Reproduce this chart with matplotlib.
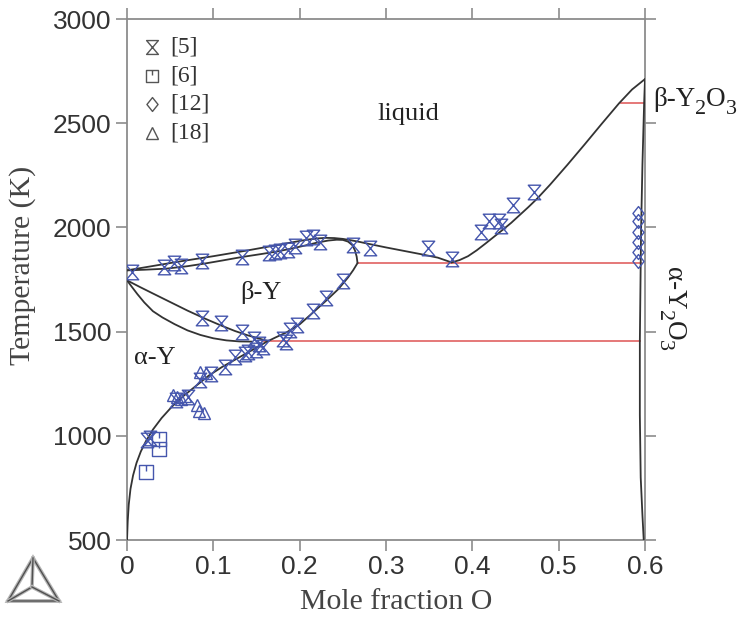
import numpy as np
import matplotlib
matplotlib.use('Agg')
import matplotlib.pyplot as plt
from matplotlib.path import Path
from matplotlib.lines import Line2D
from matplotlib.patches import Polygon
from matplotlib.transforms import offset_copy

plt.rcParams['font.family'] = ['Liberation Serif', 'DejaVu Serif']

# ---------------- data ----------------
# liquidus, Y-rich branch (up to the eutectic)
liq_left_x = [0, 0.02, 0.04, 0.06, 0.08, 0.10, 0.12, 0.14, 0.16, 0.18, 0.20, 0.21,
              0.22, 0.23, 0.24, 0.25, 0.26, 0.27, 0.28, 0.30, 0.32, 0.34, 0.36, 0.376]
liq_left_T = [1794, 1808, 1822, 1836, 1849, 1862, 1876, 1890, 1905, 1920, 1935, 1942,
              1947, 1950, 1949, 1945, 1938, 1930, 1921, 1904, 1888, 1872, 1855, 1832]
# liquidus, Y2O3 branch
liq_right_x = [0.376, 0.385, 0.395, 0.405, 0.415, 0.425, 0.435, 0.445, 0.455, 0.465,
               0.475, 0.49, 0.51, 0.53, 0.55, 0.57, 0.585, 0.6]
liq_right_T = [1832, 1843, 1862, 1890, 1922, 1955, 1988, 2022, 2060, 2098,
               2138, 2205, 2300, 2398, 2498, 2596, 2662, 2712]
# beta-Y solidus
sol_x = [0, 0.02, 0.045, 0.07, 0.089, 0.11, 0.133, 0.155, 0.173, 0.19, 0.205, 0.22,
         0.233, 0.243, 0.25, 0.256, 0.261, 0.264, 0.266, 0.267]
sol_T = [1794, 1797, 1802, 1814, 1826, 1841, 1858, 1872, 1884, 1898, 1912, 1927,
         1937, 1941, 1940, 1932, 1915, 1890, 1860, 1829]
# alpha / beta solvus (O solubility limit)
solv_x = [0.0, 0.0008, 0.002, 0.004, 0.007, 0.011, 0.016, 0.022, 0.03, 0.04, 0.052,
          0.065, 0.08, 0.095, 0.11, 0.125, 0.14, 0.152, 0.162, 0.172, 0.185, 0.2,
          0.215, 0.231, 0.245, 0.256, 0.262, 0.267]
solv_T = [500, 590, 670, 745, 810, 870, 925, 975, 1030, 1085, 1140,
          1190, 1240, 1290, 1330, 1365, 1400, 1428, 1452, 1472, 1497, 1535,
          1590, 1650, 1705, 1760, 1795, 1829]
# beta transus (upper boundary of alpha+beta)
btr_x = [0, 0.015, 0.03, 0.05, 0.07, 0.09, 0.108, 0.125, 0.14, 0.152, 0.162]
btr_T = [1746, 1714, 1683, 1642, 1601, 1563, 1531, 1503, 1482, 1468, 1456]
# alpha boundary (lower boundary of alpha+beta)
atr_x = [0, 0.005, 0.012, 0.02, 0.03, 0.041, 0.055, 0.07, 0.085, 0.1, 0.115, 0.13, 0.145]
atr_T = [1746, 1718, 1680, 1640, 1598, 1568, 1536, 1506, 1484, 1468, 1458, 1453, 1452]
# Y2O3 phase boundary
oxi_x = [0.600, 0.599, 0.597, 0.5955, 0.595, 0.594, 0.594, 0.595, 0.597, 0.5985]
oxi_T = [2712, 2600, 2300, 2000, 1829, 1454, 1100, 800, 620, 500]
# invariant (red) lines
inv_T = [2596, 1829, 1454]
inv_x0 = [0.572, 0.267, 0.158]
inv_x1 = [0.599, 0.595, 0.594]

# experimental data
ref5_x = [0.006, 0.043, 0.054, 0.062, 0.087, 0.133, 0.164, 0.171, 0.177, 0.187, 0.195,
          0.207, 0.215, 0.224, 0.262, 0.281, 0.349, 0.376, 0.410, 0.419, 0.431, 0.433,
          0.447, 0.471,
          0.250, 0.230, 0.215, 0.197, 0.189, 0.181, 0.184,
          0.087, 0.109, 0.133, 0.147, 0.153,
          0.157, 0.149, 0.140, 0.137, 0.125, 0.113, 0.097, 0.085, 0.071, 0.057,
          0.023, 0.027]
ref5_T = [1787, 1811, 1830, 1813, 1839, 1860, 1877, 1880, 1887, 1892, 1910,
          1950, 1952, 1930, 1918, 1899, 1899, 1849, 1978, 2032, 2033, 2005,
          2107, 2170,
          1742, 1660, 1600, 1531, 1507, 1467, 1451,
          1564, 1540, 1499, 1467, 1443,
          1427, 1411, 1400, 1395, 1379, 1331, 1299, 1267, 1187, 1171,
          980, 988]
ref6_x = [0.037, 0.037, 0.022]
ref6_T = [985, 935, 825]
ref12_x = [0.592, 0.592, 0.592, 0.592, 0.592, 0.592]
ref12_T = [2070, 2030, 1980, 1930, 1880, 1840]
ref18_x = [0.053, 0.058, 0.063, 0.067, 0.084, 0.091, 0.081, 0.083, 0.089]
ref18_T = [1197, 1185, 1175, 1190, 1306, 1300, 1150, 1120, 1108]

legend_labels = ['[5]', '[6]', '[12]', '[18]']
x_ticks = [0, 0.1, 0.2, 0.3, 0.4, 0.5, 0.6]
x_ticklabels = ['0', '0.1', '0.2', '0.3', '0.4', '0.5', '0.6']
y_ticks = [500, 1000, 1500, 2000, 2500, 3000]

# ---------------- markers ----------------
hourglass = Path([(-0.85, 1), (0.85, 1), (-0.85, -1), (0.85, -1), (-0.85, 1)],
                 [Path.MOVETO, Path.LINETO, Path.LINETO, Path.LINETO, Path.CLOSEPOLY])
sq_tick = Path([(-1, -1), (1, -1), (1, 1), (-1, 1), (-1, -1), (0, 1), (0, 0.15)],
               [Path.MOVETO, Path.LINETO, Path.LINETO, Path.LINETO, Path.CLOSEPOLY,
                Path.MOVETO, Path.LINETO])
diamond = Path([(0, 1), (0.8, 0), (0, -1), (-0.8, 0), (0, 1)],
               [Path.MOVETO, Path.LINETO, Path.LINETO, Path.LINETO, Path.CLOSEPOLY])

BLUE = '#4556ad'
LINE = '#333333'
RED = '#e36d6d'
SPINE = '#8c8c8c'
TXT = '#222222'

fig = plt.figure(figsize=(7.45, 6.2), dpi=100)
ax = fig.add_axes([0.1705, 0.1290, 0.6953, 0.8403])
ax.set_xlim(0, 0.6)
ax.set_ylim(500, 3000)

# invariant lines
for T, x0, x1 in zip(inv_T, inv_x0, inv_x1):
    ax.plot([x0, x1], [T, T], color=RED, lw=1.3, zorder=2)

# phase boundaries
for xs, Ts in [(liq_left_x, liq_left_T), (liq_right_x, liq_right_T), (sol_x, sol_T),
               (solv_x, solv_T), (btr_x, btr_T), (atr_x, atr_T), (oxi_x, oxi_T)]:
    ax.plot(xs, Ts, color=LINE, lw=1.3, zorder=3, solid_capstyle='round')

mk = dict(ls='none', mfc='none', mec=BLUE, mew=1.0, zorder=4)
ax.plot(ref5_x, ref5_T, marker=hourglass, ms=10.5, **mk)
ax.plot(ref6_x, ref6_T, marker=sq_tick, ms=9.5, **mk)
ax.plot(ref12_x, ref12_T, marker=diamond, ms=10, **mk)
ax.plot(ref18_x, ref18_T, marker='^', ms=9, **mk)

# legend (manual)
leg_markers = [(hourglass, 10), (sq_tick, 9), (diamond, 10), ('^', 9)]
y0, dy = 0.946, 0.0547
for i, (lab, (m, ms)) in enumerate(zip(legend_labels, leg_markers)):
    ax.plot([0.048], [y0 - i * dy], marker=m, ms=ms, ls='none', mfc='none',
            mec='#555555', mew=1.0, transform=ax.transAxes, clip_on=False)
    ax.text(0.083, y0 - i * dy, lab, transform=ax.transAxes, fontsize=17,
            color='#333333', va='center', ha='left')

# phase labels
ax.text(0.2905, 2516, 'liquid', fontsize=19, color=TXT, ha='left', va='baseline')
ax.text(0.1306, 1658, 'β-Y', fontsize=19, color=TXT, ha='left', va='baseline')
ax.text(0.008, 1344, 'α-Y', fontsize=19, color=TXT, ha='left', va='baseline')

renderer = fig.canvas.get_renderer()


def chain_text(x, y, pieces, vertical=False):
    """Draw text pieces one after another; pieces = (string, size, baseline shift pt)."""
    adv = 0.0
    for s, size, shift in pieces:
        if vertical:
            tr = offset_copy(ax.transData, fig=fig, x=-shift, y=-adv, units='points')
            t = ax.text(x, y, s, fontsize=size, color=TXT, ha='left', va='baseline',
                        rotation=-90, rotation_mode='anchor', transform=tr,
                        clip_on=False)
            ext = t.get_window_extent(renderer)
            adv += ext.height * 72.0 / fig.dpi
        else:
            tr = offset_copy(ax.transData, fig=fig, x=adv, y=-shift, units='points')
            t = ax.text(x, y, s, fontsize=size, color=TXT, ha='left', va='baseline',
                        transform=tr, clip_on=False)
            ext = t.get_window_extent(renderer)
            adv += ext.width * 72.0 / fig.dpi


chain_text(0.609, 2584, [('β-Y', 19.5, 0), ('2', 16, 6), ('O', 19.5, 0), ('3', 16, 6)])
chain_text(0.6255, 1810, [('α-Y', 19.5, 0), ('2', 16, 6), ('O', 19.5, 0), ('3', 16, 6)],
           vertical=True)

# axes styling
ax.set_xticks(x_ticks)
ax.set_xticklabels(x_ticklabels)
ax.set_yticks(y_ticks)
for s in ax.spines.values():
    s.set_color(SPINE)
    s.set_linewidth(1.3)
ax.tick_params(which='both', direction='out', length=8, width=1.2, color=SPINE,
               top=True, right=True, labeltop=False, labelright=False,
               labelsize=19, labelcolor='#333333', pad=3)
for lab in ax.get_xticklabels() + ax.get_yticklabels():
    lab.set_fontfamily('Liberation Sans')

ax.set_xlabel('Mole fraction O', fontsize=21.5, color='#444444')
ax.set_ylabel('Temperature (K)', fontsize=21.5, color='#444444')
ax.xaxis.set_label_coords(0.52, -0.094)
ax.yaxis.set_label_coords(-0.176, 0.528)

# Thermo-Calc style logo (bottom-left)
def fp(px, py):
    return (px / 745.0, 1 - py / 620.0)
tri = [fp(33, 558), fp(8, 601), fp(59, 601)]
ctr = fp(32, 587)
fig.add_artist(Polygon(tri, closed=True, fill=False, ec='#b5b5b5', lw=2.8,
                       transform=fig.transFigure))
fig.add_artist(Polygon(tri, closed=True, fill=False, ec='#505050', lw=1.0,
                       transform=fig.transFigure))
for v in tri:
    fig.add_artist(Line2D([ctr[0], v[0]], [ctr[1], v[1]], color='#b5b5b5', lw=2.6,
                          transform=fig.transFigure))
    fig.add_artist(Line2D([ctr[0], v[0]], [ctr[1], v[1]], color='#505050', lw=1.0,
                          transform=fig.transFigure))

fig.savefig('out.png', dpi=100, facecolor='white')
